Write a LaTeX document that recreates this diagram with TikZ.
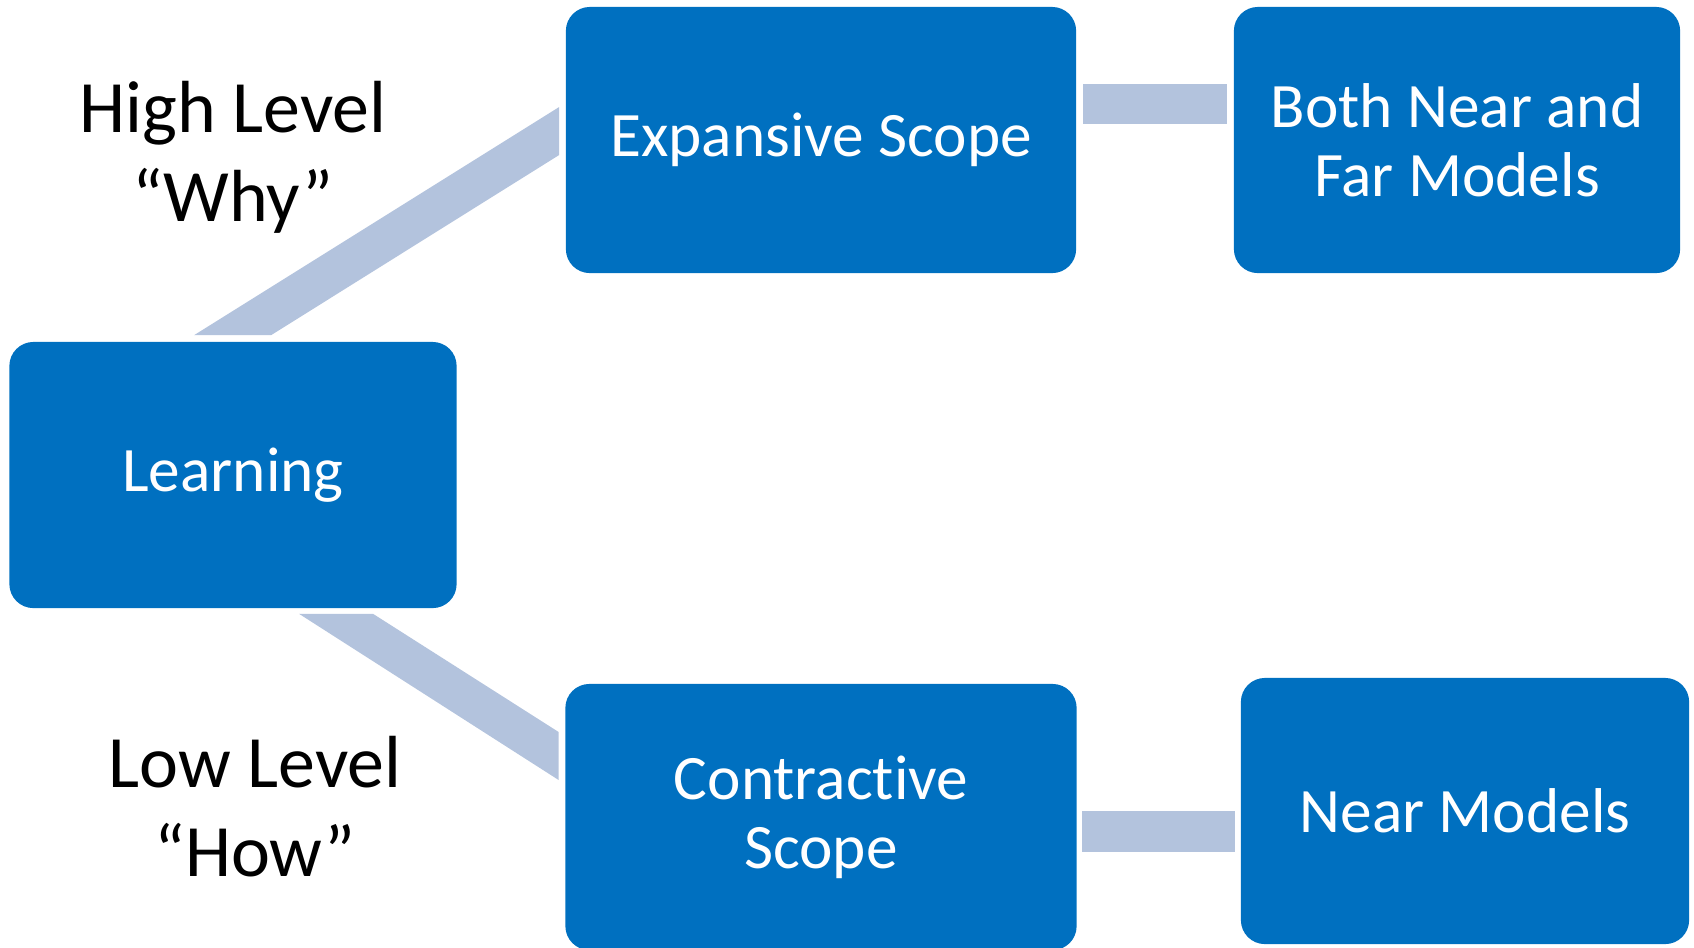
\documentclass[tikz,border=0pt]{standalone}
\usepackage{fontspec}
\setmainfont{Carlito}[Ligatures=TeX,RawFeature={-liga;-clig;-dlig;-calt;-rlig}]
\usepackage{tikz}
\usetikzlibrary{calc,positioning}
\definecolor{boxblue}{HTML}{0070C0}
\definecolor{bandgray}{HTML}{B3C3DD}

\begin{document}
\begin{tikzpicture}[x=0.01cm,y=-0.01cm,
    scopebox/.style={fill=boxblue,text=white,rounded corners=0.24cm,inner sep=0pt,
        minimum height=2.66cm,align=center,font=\fontsize{18}{19.6}\selectfont},
    levellabel/.style={align=center,font=\fontsize{21}{25.3}\selectfont},
    band/.style={fill=bandgray}]
            \useasboundingbox (0,0) rectangle (1694,947);
            \node[scopebox,minimum width=4.47cm] (learning) at (233,475) {Learning};
            \node[scopebox,minimum width=5.10cm] (expansive) at (821,140) {Expansive Scope};
            \node[scopebox,minimum width=4.46cm] (both) at (1457,140) {Both Near and\\Far Models};
            \node[scopebox,minimum width=5.11cm] (contractive) at (821,817) {Contractive\\Scope};
            \node[scopebox,minimum width=4.48cm] (near) at (1465,811) {Near Models};
            \node[levellabel] (high) at (233,157) {High Level\\“Why”};
            \node[levellabel] (low) at (255,807) {Low Level\\“How”};
            \fill[band] ([shift={(-39,-6)}]learning.north) -- ([shift={(38,-6)}]learning.north)
                -- ([shift={(-6,15)}]expansive.west) -- ([shift={(-6,-33)}]expansive.west) -- cycle;
            \fill[band] ([shift={(66,5)}]learning.south) -- ([shift={(140,5)}]learning.south)
                -- ([shift={(-6,-85)}]contractive.west) -- ([shift={(-6,-37)}]contractive.west) -- cycle;
            \fill[band] ([shift={(6,-56)}]expansive.east) rectangle ([shift={(-6,-16)}]both.west);
            \fill[band] ([shift={(5,-6)}]contractive.east) rectangle ([shift={(-5,41)}]near.west);
\end{tikzpicture}
\end{document}
